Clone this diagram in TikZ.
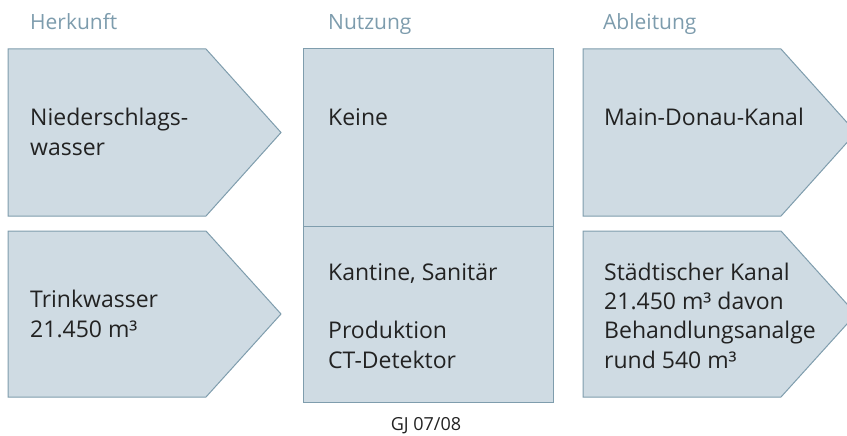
\documentclass[tikz,border=0pt]{standalone}
\usepackage{fontspec}
\setmainfont{Open Sans}
\definecolor{boxfill}{HTML}{CFDBE3}
\definecolor{boxline}{HTML}{7F9DAD}
\definecolor{headcol}{HTML}{7D9CAD}
\definecolor{txt}{HTML}{222222}
\begin{document}
\begin{tikzpicture}[x=1pt,y=-1pt,
  panel/.style={fill=boxfill,draw=boxline,line width=1pt,line join=miter},
  heading/.style={anchor=base west,inner sep=0pt,text=headcol,font=\fontsize{21}{26}\selectfont},
  body/.style={anchor=base west,inner sep=0pt,align=left,text=txt,font=\fontsize{23}{29.3}\selectfont},
  note/.style={anchor=base,inner sep=0pt,text=txt,font=\fontsize{18}{22}\selectfont}]
  \useasboundingbox (0,0) rectangle (847,436);
  \clip (0,0) rectangle (847,436);

  % column headings
  \node[heading] (hHerkunft) at (30,30) {Herkunft};
  \node[heading] (hNutzung) at (328,30) {Nutzung};
  \node[heading] (hAbleitung) at (603,30) {Ableitung};

  % Herkunft: two arrow panels
  \draw[panel] (8,49) -- (206,49) -- (281,132.5) -- (206,216) -- (8,216) -- cycle;
  \draw[panel] (8,231) -- (206,231) -- (281,314) -- (206,397) -- (8,397) -- cycle;

  % Nutzung: stacked rectangles
  \draw[panel] (303,49) rectangle (553,226);
  \draw[panel] (303,226) rectangle (553,402);

  % Ableitung: two arrow panels
  \draw[panel] (583,49) -- (781,49) -- (856,132.5) -- (781,216) -- (583,216) -- cycle;
  \draw[panel] (583,231) -- (781,231) -- (856,314) -- (781,397) -- (583,397) -- cycle;

  % panel texts (a multi-line node sits on the baseline of its last line)
  \node[body] (regen) at (30,155) {Niederschlags-\\wasser};
  \node[body] (trink) at (30,337) {Trinkwasser\\21.450 m³};
  \node[body] (keine) at (328,125) {Keine};
  \node[body] (kantine) at (328,368) {Kantine, Sanitär\\[29.3pt]Produktion\\CT-Detektor};
  \node[body] (mdk) at (604,125) {Main-Donau-Kanal};
  \node[body] (stadt) at (604,368) {Städtischer Kanal\\21.450 m³ davon\\Behandlungsanalge\\rund 540 m³};

  % footnote
  \node[note] (gj) at (426,430) {GJ 07/08};
\end{tikzpicture}
\end{document}
